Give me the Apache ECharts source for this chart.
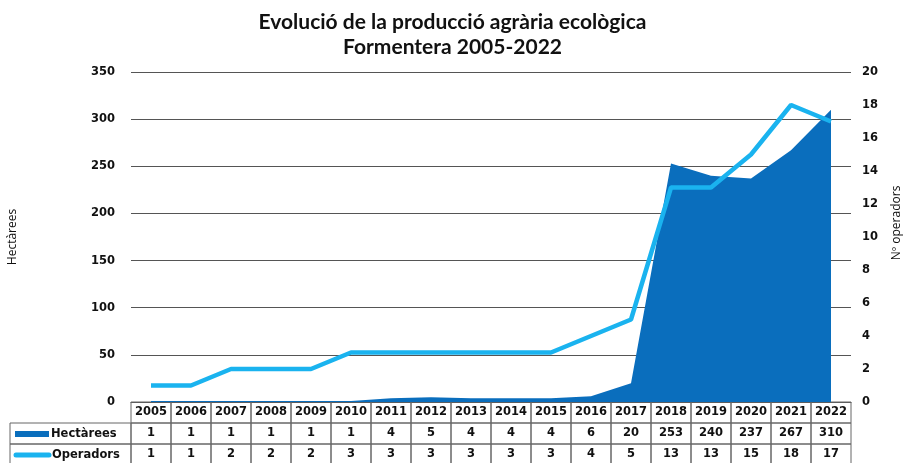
<!DOCTYPE html>
<html>
<head>
<meta charset="utf-8">
<script src="https://cdn.jsdelivr.net/npm/echarts@6/dist/echarts.min.js"></script>
<style>
  html, body { margin: 0; padding: 0; background: #fff; }
  #chart { width: 905px; height: 463px; }
</style>
</head>
<body>
<div id="chart"></div>
<script>
var years = ['2005','2006','2007','2008','2009','2010','2011','2012','2013','2014','2015','2016','2017','2018','2019','2020','2021','2022'];
var hectarees = [1, 1, 1, 1, 1, 1, 4, 5, 4, 4, 4, 6, 20, 253, 240, 237, 267, 310];
var operadors = [1, 1, 2, 2, 2, 3, 3, 3, 3, 3, 3, 4, 5, 13, 13, 15, 18, 17];

var darkBlue = '#0a6ebd';
var lightBlue = '#1ab3ef';
var tableFont = 'DejaVu Sans';
var cellW = 40, cellH = 21;

// one axis per table row, labels boxed like cells
function tableRow(idx, offset, values) {
  return {
    type: 'category',
    gridIndex: 0,
    position: 'bottom',
    offset: offset,
    data: years,
    axisLine: { show: idx === 0, lineStyle: { color: '#555' } },
    axisTick: { show: false },
    axisLabel: {
      interval: 0,
      margin: 0,
      hideOverlap: false,
      formatter: function (v, i) { return values ? String(values[i]) : v; },
      width: cellW,
      height: cellH,
      lineHeight: cellH,
      align: 'center',
      borderColor: '#666',
      borderWidth: 1,
      color: '#111',
      fontFamily: tableFont,
      fontWeight: 'bold',
      fontSize: 11.5
    }
  };
}

var option = {
  animation: false,
  backgroundColor: '#fff',
  title: {
    text: 'Evolució de la producció agrària ecològica\nFormentera 2005-2022',
    left: 'center',
    top: 5,
    textStyle: {
      fontFamily: 'Lato',
      fontWeight: 'bold',
      fontSize: 21,
      lineHeight: 25,
      color: '#111'
    }
  },
  grid: { left: 131, right: 54, top: 72, bottom: 61, outerBoundsMode: 'none', containLabel: false },
  xAxis: [
    tableRow(0, 0, null),
    tableRow(1, cellH, hectarees),
    tableRow(2, cellH * 2, operadors)
  ],
  yAxis: [
    {
      type: 'value',
      min: 0, max: 350, interval: 50,
      name: 'Hectàrees',
      nameLocation: 'middle',
      nameGap: 112,
      nameTextStyle: { fontFamily: 'Open Sans', fontSize: 12, color: '#111' },
      axisLine: { show: false },
      axisTick: { show: false },
      axisLabel: { margin: 16, color: '#111', fontFamily: tableFont, fontWeight: 'bold', fontSize: 11.5 },
      splitLine: { lineStyle: { color: '#555', width: 1 } }
    },
    {
      type: 'value',
      min: 0, max: 20, interval: 2,
      name: 'Nº operadors',
      nameLocation: 'middle',
      nameGap: 40,
      nameTextStyle: { fontFamily: 'Open Sans', fontSize: 12, color: '#111', padding: [0, 0, 0, 28] },
      axisLine: { show: false },
      axisTick: { show: false },
      axisLabel: { margin: 11, color: '#111', fontFamily: tableFont, fontWeight: 'bold', fontSize: 11.5 },
      splitLine: { show: false }
    }
  ],
  series: [
    {
      name: 'Hectàrees',
      type: 'line',
      data: hectarees,
      symbol: 'none',
      lineStyle: { width: 0, color: darkBlue },
      itemStyle: { color: darkBlue },
      areaStyle: { color: darkBlue, opacity: 1 },
      z: 2
    },
    {
      name: 'Operadors',
      type: 'line',
      yAxisIndex: 1,
      data: operadors,
      symbol: 'none',
      lineStyle: { width: 4.5, color: lightBlue },
      itemStyle: { color: lightBlue },
      z: 3
    }
  ],
  graphic: [
    { type: 'rect', shape: { x: 10, y: 423, width: 121, height: 21 }, style: { fill: 'none', stroke: '#666', lineWidth: 1 } },
    { type: 'rect', shape: { x: 10, y: 444, width: 121, height: 21 }, style: { fill: 'none', stroke: '#666', lineWidth: 1 } },
    { type: 'rect', shape: { x: 15, y: 431, width: 34, height: 6 }, style: { fill: darkBlue } },
    { type: 'line', shape: { x1: 16, y1: 455, x2: 49, y2: 455 }, style: { stroke: lightBlue, lineWidth: 5, lineCap: 'round' } },
    { type: 'text', x: 51, y: 434, style: { text: 'Hectàrees', fontFamily: tableFont, fontWeight: 'bold', fontSize: 11.5, fill: '#111', verticalAlign: 'middle' } },
    { type: 'text', x: 52, y: 455, style: { text: 'Operadors', fontFamily: tableFont, fontWeight: 'bold', fontSize: 11.5, fill: '#111', verticalAlign: 'middle' } }
  ]
};

var chart = echarts.init(document.getElementById('chart'));
chart.setOption(option);
</script>
</body>
</html>
